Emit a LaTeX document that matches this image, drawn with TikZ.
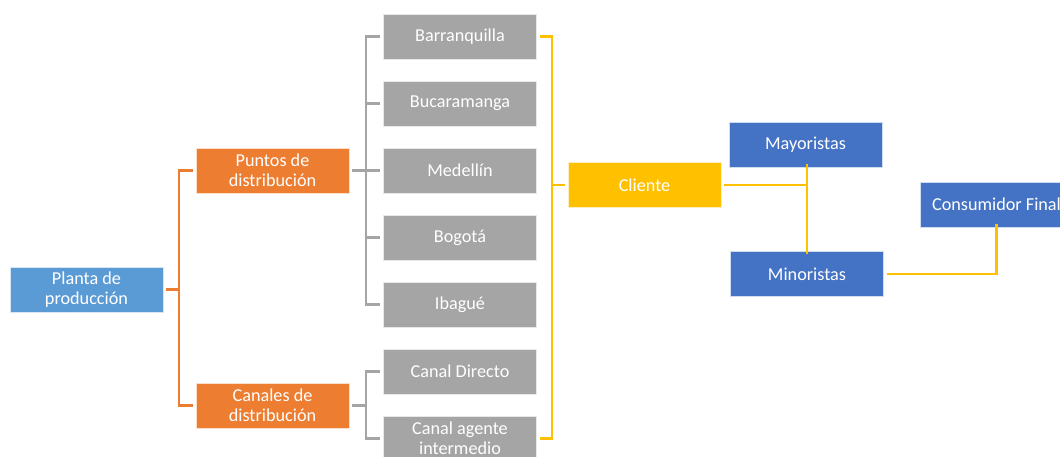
\documentclass[tikz,border=0pt]{standalone}
\usepackage{fontspec}
\setmainfont{Carlito}
\definecolor{cBlueL}{HTML}{5B9BD5}
\definecolor{cBlueD}{HTML}{4472C4}
\definecolor{cOrange}{HTML}{ED7D31}
\definecolor{cGray}{HTML}{A5A5A5}
\definecolor{cGold}{HTML}{FFC000}
\begin{document}
\begin{tikzpicture}[x=1pt,y=-1pt,
  box/.style={rectangle, minimum width=153pt, minimum height=45pt, inner sep=0pt,
    text=white, font=\fontsize{18.2}{20}\selectfont, align=center,
    draw=white!75!#1, line width=0.6pt, fill=#1},
  oline/.style={draw=cOrange, line width=2.2pt},
  gline/.style={draw=cGray, line width=2.2pt},
  yline/.style={draw=cGold, line width=2.2pt}]
\useasboundingbox (0,0) rectangle (1060,456);
\clip (0,0) rectangle (1060,456);

% boxes
\node[box=cBlueL]  (planta)  at (86.5,289.5) {Planta de\\producción};
\node[box=cOrange] (puntos)  at (272.5,170.5) {Puntos de\\distribución};
\node[box=cOrange] (canales) at (272.5,405.5) {Canales de\\distribución};
\node[box=cGray] (barr)   at (460,36.5)  {Barranquilla};
\node[box=cGray] (buca)   at (460,103.5) {Bucaramanga};
\node[box=cGray] (mede)   at (460,170.5) {Medellín};
\node[box=cGray] (bogo)   at (460,237.5) {Bogotá};
\node[box=cGray] (ibag)   at (460,304.5) {Ibagué};
\node[box=cGray] (directo) at (460,371.5) {Canal Directo};
\node[box=cGray] (agente)  at (460,438.5) {Canal agente\\intermedio};
\node[box=cGold]  (cliente) at (644.5,185) {Cliente};
\node[box=cBlueD] (mayo) at (805.5,144.5) {Mayoristas};
\node[box=cBlueD] (mino) at (807,274) {Minoristas};
\node[box=cBlueD] (cons) at (996.5,204.5) {Consumidor Final};

% plant to the two branches
\draw[oline] ([xshift=3pt]planta.east) -- ([xshift=-17pt]planta.east -| puntos.west);
\draw[oline] ([xshift=-3pt]puntos.west) -| ([xshift=-17pt]puntos.west) |- ([xshift=-3pt]canales.west);

% distribution points to cities
\draw[gline] ([xshift=3pt]puntos.east) -- ([xshift=-17pt]puntos.east -| barr.west);
\draw[gline] ([xshift=-3pt]barr.west) -| ([xshift=-17pt]barr.west) |- ([xshift=-3pt]ibag.west);
\draw[gline] ([xshift=-3pt]buca.west) -- ([xshift=-17pt]buca.west);
\draw[gline] ([xshift=-3pt]mede.west) -- ([xshift=-17pt]mede.west);
\draw[gline] ([xshift=-3pt]bogo.west) -- ([xshift=-17pt]bogo.west);

% distribution channels
\draw[gline] ([xshift=3pt]canales.east) -- ([xshift=-17pt]canales.east -| directo.west);
\draw[gline] ([xshift=-3pt]directo.west) -| ([xshift=-17pt]directo.west) |- ([xshift=-3pt]agente.west);

% all outlets to the client
\draw[yline] ([xshift=3pt]barr.east) -| ([xshift=15pt]barr.east) |- ([xshift=3pt]agente.east);
\draw[yline] ([xshift=-3pt]cliente.west) -- ([xshift=15pt]cliente.west -| barr.east);

% client to wholesalers / retailers
\draw[yline] ([xshift=3pt]cliente.east) -- (cliente.east -| mino.north);
\draw[yline] ([yshift=3pt]mayo.south -| mino.north) -- ([yshift=-3pt]mino.north);
\draw[yline] ([xshift=3pt]mino.east) -| ([yshift=3pt]cons.south);
\end{tikzpicture}
\end{document}
